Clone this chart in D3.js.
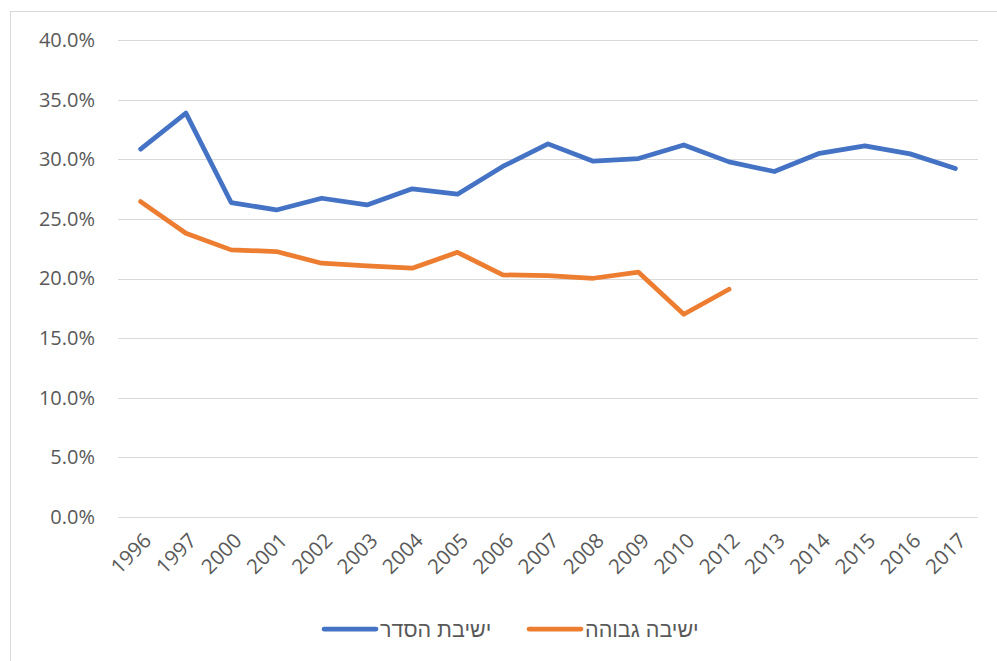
<!DOCTYPE html>
<html><head><meta charset="utf-8">
<script src="https://cdn.jsdelivr.net/npm/d3@7"></script>
<style>body{margin:0;background:#fff;} svg{display:block;}</style>
</head><body>
<svg id="chart" width="997" height="661"></svg>
<script>
const years = ["1996","1997","2000","2001","2002","2003","2004","2005","2006","2007","2008","2009","2010","2012","2013","2014","2015","2016","2017"];
const hesder = [30.85,33.87,26.37,25.75,26.73,26.17,27.52,27.07,29.4,31.29,29.84,30.06,31.2,29.78,28.97,30.5,31.12,30.45,29.22];
const gevoha = [26.45,23.8,22.4,22.26,21.28,21.06,20.86,22.2,20.3,20.25,20.02,20.53,17.0,19.1,null,null,null,null,null];
const yTicks = [0,5,10,15,20,25,30,35,40];
const seriesNames = ["ישיבת הסדר","ישיבה גבוהה"];
const colors = ["#4472C4","#ED7D31"];

(function(){
const svg = d3.select("#chart");
const pL = 118, pR = 978, pT = 40, pB = 517;

svg.append("rect").attr("x",10.5).attr("y",11.5).attr("width",1000).attr("height",700)
  .attr("fill","#fff").attr("stroke","#d9d9d9").attr("stroke-width",1);

const x = d3.scaleBand().domain(years).range([pL,pR]);
const y = d3.scaleLinear().domain([0,40]).range([pB,pT]);

svg.append("g").selectAll("line").data(yTicks).join("line")
  .attr("x1",pL).attr("x2",pR)
  .attr("y1",d=>Math.round(y(d))+0.5).attr("y2",d=>Math.round(y(d))+0.5)
  .attr("stroke","#d9d9d9").attr("stroke-width",1);

const font = "'Open Sans', sans-serif";
const yAxis = svg.append("g").attr("transform",`translate(${pL},0)`)
  .call(d3.axisLeft(y).tickValues(yTicks).tickFormat(d=>d.toFixed(1)+"%").tickSize(0).tickPadding(23));
yAxis.select(".domain").remove();
yAxis.selectAll("text").attr("fill","#595959").style("font-family",font).style("font-size","20px");

const xAxis = svg.append("g").attr("transform",`translate(0,${pB})`)
  .call(d3.axisBottom(x).tickSize(0).tickPadding(0));
xAxis.select(".domain").remove();
xAxis.selectAll("text")
  .attr("fill","#595959").style("font-family",font).style("font-size","20.5px")
  .attr("text-anchor","end").attr("dy",0).attr("y",0)
  .attr("transform","translate(12,25) rotate(-45)");

const cx = d => x(d) + x.bandwidth()/2;
const line = d3.line().defined(d=>d[1]!=null).x(d=>cx(d[0])).y(d=>y(d[1]));
[hesder,gevoha].forEach((vals,i)=>{
  svg.append("path").datum(years.map((yr,j)=>[yr,vals[j]]))
    .attr("d",line).attr("fill","none").attr("stroke",colors[i])
    .attr("stroke-width",4.75).attr("stroke-linecap","round").attr("stroke-linejoin","round");
});

const leg = svg.append("g").attr("transform","translate(0,629)");
const legX = [324,529];
seriesNames.forEach((n,i)=>{
  leg.append("line").attr("x1",legX[i]).attr("x2",legX[i]+52).attr("y1",0).attr("y2",0)
    .attr("stroke",colors[i]).attr("stroke-width",4.75).attr("stroke-linecap","round");
  leg.append("text").attr("x",legX[i]+56).attr("y",7.5).attr("text-anchor","start")
    .attr("fill","#595959").style("font-family","'Liberation Sans', Arial, sans-serif").style("font-size","21.5px")
    .text(n);
});
})();
</script>
</body></html>
